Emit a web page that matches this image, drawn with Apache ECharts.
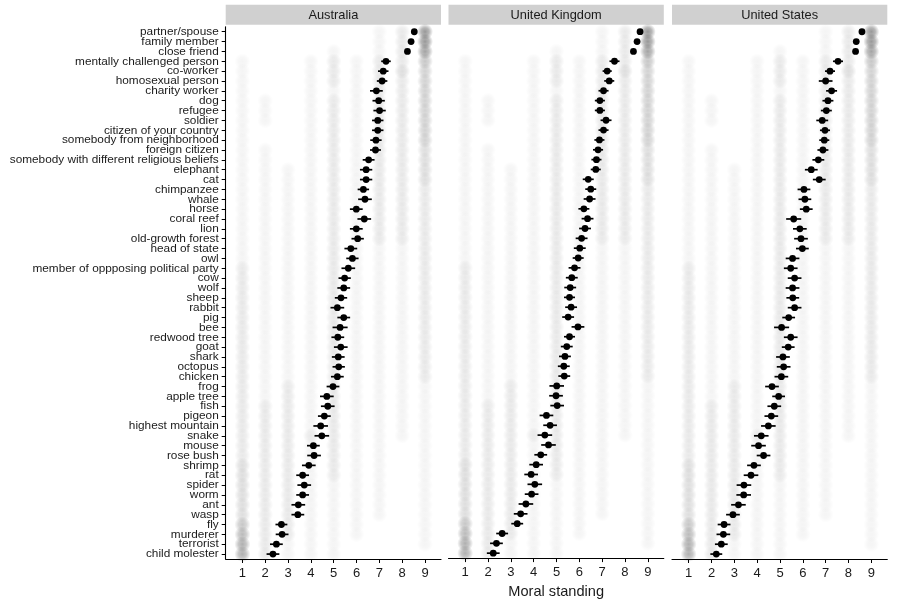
<!DOCTYPE html>
<html lang="en">
<head>
    <meta charset="UTF-8">
    <title>moral-standing-facets</title>
    <script src="https://cdn.jsdelivr.net/npm/echarts@6/dist/echarts.min.js"></script>
    <style>
        html, body {
            margin: 0;
            padding: 0;
            background: #fff;
        }

        #main {
            width: 900px;
            height: 604px;
        }
    </style>
</head>
<body>
<div id="main"></div>
<script>
    // categories, top to bottom
    let categories = ['partner/spouse', 'family member', 'close friend', 'mentally challenged person', 'co-worker',
        'homosexual person', 'charity worker', 'dog', 'refugee', 'soldier', 'citizen of your country',
        'somebody from neighborhood', 'foreign citizen', 'somebody with different religious beliefs', 'elephant',
        'cat', 'chimpanzee', 'whale', 'horse', 'coral reef', 'lion', 'old-growth forest', 'head of state', 'owl',
        'member of oppposing political party', 'cow', 'wolf', 'sheep', 'rabbit', 'pig', 'bee', 'redwood tree',
        'goat', 'shark', 'octopus', 'chicken', 'frog', 'apple tree', 'fish', 'pigeon', 'highest mountain', 'snake',
        'mouse', 'rose bush', 'shrimp', 'rat', 'spider', 'worm', 'ant', 'wasp', 'fly', 'murderer', 'terrorist',
        'child molester'];
    let countries = ['Australia', 'United Kingdom', 'United States'];
    let xTicks = [1, 2, 3, 4, 5, 6, 7, 8, 9];

    // means per country
    let meanAU = [8.53, 8.39, 8.23, 7.29, 7.17, 7.12, 6.87, 6.97, 7.01, 6.93, 6.93, 6.85, 6.83, 6.53, 6.42, 6.42,
        6.30, 6.37, 5.99, 6.34, 5.99, 6.05, 5.75, 5.82, 5.64, 5.48, 5.44, 5.32, 5.16, 5.44, 5.28, 5.18, 5.31, 5.20,
        5.22, 5.16, 4.97, 4.70, 4.74, 4.59, 4.43, 4.48, 4.11, 4.14, 3.91, 3.64, 3.71, 3.64, 3.45, 3.43, 2.71, 2.74,
        2.49, 2.34];
    let meanUK = [8.66, 8.53, 8.37, 7.54, 7.22, 7.31, 7.06, 6.90, 6.90, 7.17, 7.06, 6.88, 6.82, 6.75, 6.72, 6.39,
        6.50, 6.45, 6.20, 6.36, 6.25, 6.10, 6.02, 5.95, 5.79, 5.67, 5.60, 5.57, 5.64, 5.51, 5.94, 5.57, 5.45, 5.37,
        5.32, 5.34, 5.01, 4.98, 5.03, 4.56, 4.72, 4.49, 4.65, 4.31, 4.11, 3.89, 4.05, 3.91, 3.66, 3.43, 3.28, 2.62,
        2.37, 2.23];
    let meanUS = [8.59, 8.34, 8.31, 7.54, 7.19, 7.00, 7.26, 7.10, 7.03, 6.85, 6.97, 6.94, 6.88, 6.68, 6.37, 6.72,
        6.05, 6.09, 6.15, 5.60, 5.87, 5.92, 5.98, 5.55, 5.47, 5.64, 5.55, 5.56, 5.64, 5.38, 5.07, 5.47, 5.36, 5.13,
        5.16, 5.06, 4.65, 4.94, 4.75, 4.62, 4.49, 4.18, 4.06, 4.28, 3.86, 3.73, 3.42, 3.41, 3.18, 2.94, 2.55, 2.52,
        2.43, 2.21];

    // half width of the error bars
    let errAU = [0.10, 0.10, 0.10, 0.21, 0.23, 0.23, 0.28, 0.27, 0.27, 0.25, 0.25, 0.25, 0.24, 0.26, 0.27, 0.27,
        0.25, 0.30, 0.28, 0.30, 0.28, 0.27, 0.28, 0.27, 0.30, 0.27, 0.28, 0.27, 0.30, 0.28, 0.33, 0.28, 0.30, 0.28,
        0.27, 0.28, 0.28, 0.30, 0.30, 0.28, 0.32, 0.32, 0.28, 0.30, 0.30, 0.28, 0.30, 0.28, 0.30, 0.28, 0.26, 0.28,
        0.28, 0.28];
    let errUK = [0.08, 0.08, 0.08, 0.22, 0.20, 0.22, 0.22, 0.22, 0.22, 0.24, 0.22, 0.22, 0.22, 0.22, 0.22, 0.24,
        0.24, 0.26, 0.24, 0.26, 0.26, 0.26, 0.26, 0.24, 0.26, 0.26, 0.26, 0.24, 0.26, 0.26, 0.28, 0.24, 0.26, 0.26,
        0.26, 0.26, 0.32, 0.30, 0.30, 0.30, 0.30, 0.32, 0.32, 0.28, 0.30, 0.30, 0.32, 0.30, 0.32, 0.30, 0.26, 0.26,
        0.28, 0.28];
    let errUS = [0.08, 0.12, 0.10, 0.22, 0.22, 0.30, 0.24, 0.24, 0.24, 0.26, 0.22, 0.22, 0.24, 0.26, 0.28, 0.28,
        0.28, 0.28, 0.28, 0.33, 0.30, 0.30, 0.28, 0.30, 0.30, 0.30, 0.30, 0.28, 0.30, 0.28, 0.33, 0.30, 0.28, 0.30,
        0.30, 0.30, 0.30, 0.28, 0.30, 0.30, 0.32, 0.32, 0.32, 0.30, 0.30, 0.32, 0.32, 0.32, 0.32, 0.30, 0.28, 0.30,
        0.28, 0.26];

    // rough density of raw answers 1..9 per row (0-9), read off the grey cloud, same for all panels
    let bgDensity = ['000000129', '000000129', '000010128', '100121225', '100121234', '100121224', '100111224',
        '110121224', '110121224', '110121224', '100121224', '100121224', '110121223', '110121223', '111121223',
        '111121223', '111121222', '111121222', '111121222', '111121222', '111121222', '111121222', '111121112',
        '111121112', '211121112', '211121112', '211121112', '211121112', '211121112', '211121112', '211121112',
        '211121112', '211121112', '211121112', '211121112', '211121112', '212121111', '212121111', '222121111',
        '222121111', '222121111', '222221111', '222121101', '222121101', '322121101', '322121101', '322111101',
        '322111101', '322111101', '322111101', '522111001', '622111001', '721110001', '721110000'];

    let means = [meanAU, meanUK, meanUS];
    let errs = [errAU, errUK, errUS];

    // panel geometry
    let gridLefts = [225.7, 448.5, 672];
    let gridWidth = 215.3;
    let gridTop = 26.8;
    let gridHeight = 532.2;
    let fontName = '"Liberation Sans", Arial, sans-serif';

    /*
    * soft grey blob for the raw answers
    * */
    function renderBlob(params, api) {
        let c = api.coord([api.value(0), api.value(1)]);
        let a = api.value(2) * 0.045;
        return {
            type: 'circle',
            silent: true,
            shape: {cx: c[0], cy: c[1], r: 8},
            style: {
                fill: {
                    type: 'radial', x: 0.5, y: 0.5, r: 0.5,
                    colorStops: [
                        {offset: 0, color: 'rgba(0,0,0,' + a + ')'},
                        {offset: 0.5, color: 'rgba(0,0,0,' + (a * 0.7) + ')'},
                        {offset: 1, color: 'rgba(0,0,0,0)'}
                    ]
                }
            }
        };
    }

    /*
    * horizontal error bar
    * */
    function renderBar(params, api) {
        let row = api.value(2);
        let p1 = api.coord([api.value(0), row]);
        let p2 = api.coord([api.value(1), row]);
        return {
            type: 'line',
            shape: {x1: p1[0], y1: p1[1], x2: p2[0], y2: p2[1]},
            style: {stroke: '#000', lineWidth: 1.7}
        };
    }

    let grids = [], xAxes = [], yAxes = [], series = [], graphics = [];

    for (let p = 0; p < 3; p++) {
        grids.push({left: gridLefts[p], top: gridTop, width: gridWidth, height: gridHeight});

        xAxes.push({
            type: 'value',
            gridIndex: p,
            min: 0.27,
            max: 9.7,
            splitLine: {show: false},
            axisLine: {show: true, onZero: false, lineStyle: {color: '#000', width: 1.1}},
            axisTick: {show: true, length: 4, customValues: xTicks, lineStyle: {color: '#000'}},
            axisLabel: {customValues: xTicks, margin: 8, fontSize: 13, color: '#1a1a1a', fontFamily: fontName},
            name: p === 1 ? 'Moral standing' : '',
            nameLocation: 'middle',
            nameGap: 25,
            nameTextStyle: {fontSize: 14.6, color: '#1a1a1a', fontFamily: fontName}
        });

        yAxes.push({
            type: 'category',
            gridIndex: p,
            data: categories,
            inverse: true,
            boundaryGap: true,
            axisLine: {show: p === 0, lineStyle: {color: '#000', width: 1.1}},
            axisTick: {show: p === 0, length: 4, alignWithLabel: true, lineStyle: {color: '#000'}},
            axisLabel: {
                show: p === 0, interval: 0, margin: 7, fontSize: 11.8,
                color: '#1a1a1a', fontFamily: fontName
            },
            splitLine: {show: false}
        });

        // grey cloud
        let blobs = [];
        bgDensity.forEach((row, i) => {
            for (let k = 0; k < 9; k++) {
                let d = parseInt(row[k]);
                if (d > 0) {
                    blobs.push([k + 1, i, d]);
                }
            }
        });
        series.push({
            type: 'custom',
            xAxisIndex: p,
            yAxisIndex: p,
            renderItem: renderBlob,
            encode: {x: 0, y: 1},
            data: blobs,
            silent: true,
            z: 1
        });

        // error bars
        series.push({
            type: 'custom',
            xAxisIndex: p,
            yAxisIndex: p,
            renderItem: renderBar,
            encode: {x: [0, 1], y: 2},
            data: means[p].map((m, i) => [m - errs[p][i], m + errs[p][i], i]),
            z: 2
        });

        // means
        series.push({
            type: 'scatter',
            xAxisIndex: p,
            yAxisIndex: p,
            symbol: 'circle',
            symbolSize: 6.8,
            itemStyle: {color: '#000', opacity: 1},
            data: means[p].map((m, i) => [m, i]),
            z: 3
        });

        // facet strip
        graphics.push({
            type: 'rect',
            shape: {x: gridLefts[p], y: 4.7, width: gridWidth, height: 20},
            style: {fill: '#d0d0d0'}
        });
        graphics.push({
            type: 'text',
            x: gridLefts[p] + gridWidth / 2,
            y: 15,
            style: {
                text: countries[p], fill: '#1a1a1a', fontSize: 12.8, fontFamily: fontName,
                align: 'center', verticalAlign: 'middle'
            }
        });
    }

    let option = {
        animation: false,
        backgroundColor: '#fff',
        grid: grids,
        xAxis: xAxes,
        yAxis: yAxes,
        series: series,
        graphic: graphics
    };

    let myChart = echarts.init(document.getElementById('main'), null, {renderer: 'canvas'});
    myChart.setOption(option);
</script>
</body>
</html>
